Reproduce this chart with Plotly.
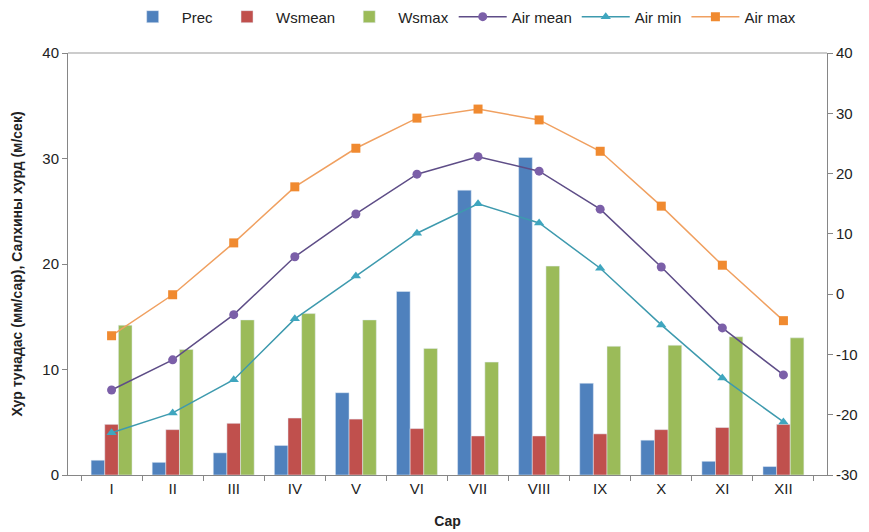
import plotly.graph_objects as go

months = ["I", "II", "III", "IV", "V", "VI", "VII", "VIII", "IX", "X", "XI", "XII"]
prec = [1.4, 1.2, 2.1, 2.8, 7.8, 17.4, 27.0, 30.1, 8.7, 3.3, 1.3, 0.8]
wsmean = [4.8, 4.3, 4.9, 5.4, 5.3, 4.4, 3.7, 3.7, 3.9, 4.3, 4.5, 4.8]
wsmax = [14.2, 11.9, 14.7, 15.3, 14.7, 12.0, 10.7, 19.8, 12.2, 12.3, 13.1, 13.0]
air_mean = [-15.9, -10.9, -3.4, 6.2, 13.3, 19.9, 22.8, 20.4, 14.1, 4.5, -5.6, -13.4]
air_min = [-23.0, -19.7, -14.2, -4.1, 3.0, 10.1, 15.0, 11.8, 4.3, -5.1, -13.9, -21.2]
air_max = [-6.9, -0.1, 8.5, 17.8, 24.2, 29.2, 30.7, 28.9, 23.7, 14.6, 4.8, -4.4]
right_ticks = [-30, -20, -10, 0, 10, 20, 30, 40]
right_tick_labels = ["-30", "-20", "-10", "0", "10", "20", "30", "40"]

FONT = "Liberation Sans, Arial, sans-serif"
AX = "#868686"

fig = go.Figure()
fig.add_trace(go.Bar(x=months, y=prec, name="Prec", marker_color="#4F81BD"))
fig.add_trace(go.Bar(x=months, y=wsmean, name="Wsmean", marker_color="#C0504D"))
fig.add_trace(go.Bar(x=months, y=wsmax, name="Wsmax", marker_color="#9BBB59"))
fig.add_trace(go.Scatter(x=months, y=air_mean, name="Air mean", yaxis="y2", mode="lines+markers",
                         line=dict(color="#5E4D87", width=1.5),
                         marker=dict(symbol="circle", size=9, color="#7B5FA8")))
fig.add_trace(go.Scatter(x=months, y=air_min, name="Air min", yaxis="y2", mode="lines+markers",
                         line=dict(color="#3E9AAE", width=1.5),
                         marker=dict(symbol="triangle-up", size=9, color="#3FA6BF")))
fig.add_trace(go.Scatter(x=months, y=air_max, name="Air max", yaxis="y2", mode="lines+markers",
                         line=dict(color="#F0A060", width=1.5),
                         marker=dict(symbol="square", size=9, color="#F08A30")))

fig.update_layout(
    width=861, height=524,
    margin=dict(l=60, r=42, t=45, b=57, autoexpand=False),
    paper_bgcolor="white", plot_bgcolor="white",
    font=dict(family=FONT, size=15, color="#222"),
    barmode="group", bargap=0.33, bargroupgap=0,
    showlegend=True,
    legend=dict(orientation="h", x=0.52, xanchor="center", yref="container", y=0.983, yanchor="middle",
                font=dict(size=15), itemwidth=48, traceorder="normal"),
    xaxis=dict(
        automargin=False,
        showline=True, linecolor=AX, linewidth=1, mirror=False,
        ticks="outside", tickcolor=AX, ticklen=5, tickson="boundaries",
        showgrid=False,
        title=dict(text="<b>Сар</b>", font=dict(size=14), standoff=20),
    ),
    yaxis=dict(
        automargin=False,
        range=[0, 40], dtick=10, showgrid=False, zeroline=False,
        showline=True, linecolor=AX, linewidth=1,
        ticks="outside", tickcolor=AX, ticklen=5,
        title=dict(text="<b>Хур тунадас (мм/сар), Салхины хурд (м/сек)</b>", font=dict(size=14), standoff=16),
    ),
    yaxis2=dict(
        automargin=False,
        range=[-30, 40], overlaying="y", side="right",
        tickmode="array", tickvals=right_ticks, ticktext=right_tick_labels,
        showgrid=False, zeroline=False,
        showline=True, linecolor=AX, linewidth=1,
        ticks="outside", tickcolor=AX, ticklen=5,
    ),
    shapes=[dict(type="line", xref="paper", yref="paper", x0=0, x1=1, y0=1, y1=1,
                 line=dict(color="#BBBBBB", width=1.5))],
)

fig.write_html("out.html")
